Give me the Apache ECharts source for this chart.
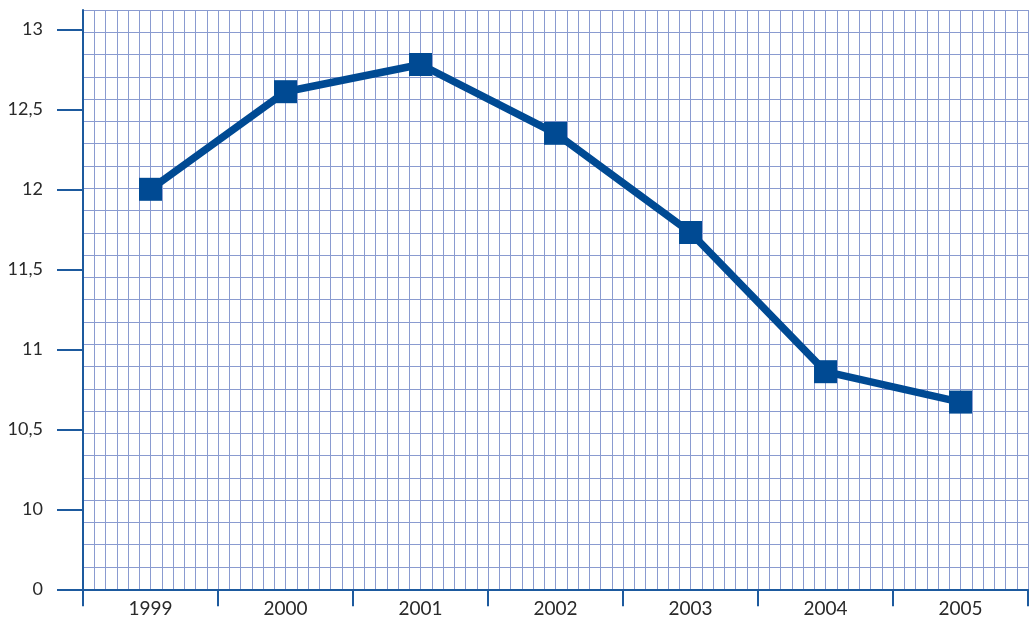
<!DOCTYPE html>
<html>
<head>
<meta charset="utf-8">
<title>chart</title>
<script src="https://cdn.jsdelivr.net/npm/echarts@6/dist/echarts.min.js"></script>
<style>
  html, body { margin: 0; padding: 0; background: #fff; }
  #chart { width: 1030px; height: 620px; }
</style>
</head>
<body>
<div id="chart"></div>
<script>
  // data
  var years = ['1999', '2000', '2001', '2002', '2003', '2004', '2005'];
  var values = [12.0, 12.61, 12.78, 12.35, 11.73, 10.86, 10.67];
  // the bottom tick stands for 0 (broken axis), the rest are real values
  var yMin = 9.5, yMax = 13, yStep = 0.5;
  var brokenLabel = '0';

  var axisBlue = '#1d5a9e';
  var meshBlue = '#8a9bd0';
  var lineBlue = '#004a93';
  var font = 'Lato, "Open Sans", sans-serif';

  var chart = echarts.init(document.getElementById('chart'));

  chart.setOption({
    animation: false,
    backgroundColor: '#fff',
    grid: [
      { left: 83, right: 2, top: 29.3, bottom: 30.7 },
      // millimetre paper behind the plot
      { left: 83, right: 2, top: 10, bottom: 30.7 }
    ],
    xAxis: [
      {
        type: 'category',
        gridIndex: 0,
        data: years,
        boundaryGap: true,
        axisLine: { show: true, lineStyle: { color: axisBlue, width: 2 } },
        axisTick: { show: true, length: 17, interval: 0, lineStyle: { color: axisBlue, width: 2 } },
        axisLabel: { margin: 10, fontSize: 19, color: '#2a2a2a', fontFamily: font },
        splitLine: { show: false },
        z: 5
      },
      {
        type: 'value',
        gridIndex: 1,
        min: 0, max: 84, interval: 1,
        axisLine: { show: false },
        axisTick: { show: false },
        axisLabel: { show: false },
        splitLine: { show: true, lineStyle: { color: meshBlue, width: 1 } }
      }
    ],
    yAxis: [
      {
        type: 'value',
        gridIndex: 0,
        min: yMin, max: yMax, interval: yStep,
        axisLine: { show: false },
        axisTick: { show: true, length: 26, lineStyle: { color: axisBlue, width: 2 } },
        axisLabel: {
          margin: 40,
          fontSize: 18,
          color: '#2a2a2a',
          fontFamily: font,
          padding: [0, 0, 10, 0],
          formatter: function (v) {
            if (v === yMin) return brokenLabel;
            return String(v).replace('.', ',');
          }
        },
        splitLine: { show: false },
        z: 5
      },
      {
        type: 'value',
        gridIndex: 1,
        min: 0, max: 26, interval: 1,
        axisLine: { show: true, lineStyle: { color: axisBlue, width: 2 } },
        axisTick: { show: false },
        axisLabel: { show: false },
        splitLine: { show: true, lineStyle: { color: meshBlue, width: 1 } },
        z: 4
      }
    ],
    series: [{
      type: 'line',
      xAxisIndex: 0,
      yAxisIndex: 0,
      data: values,
      symbol: 'rect',
      symbolSize: 23,
      lineStyle: { color: lineBlue, width: 7.5 },
      itemStyle: { color: lineBlue },
      z: 10
    }]
  });
</script>
</body>
</html>
